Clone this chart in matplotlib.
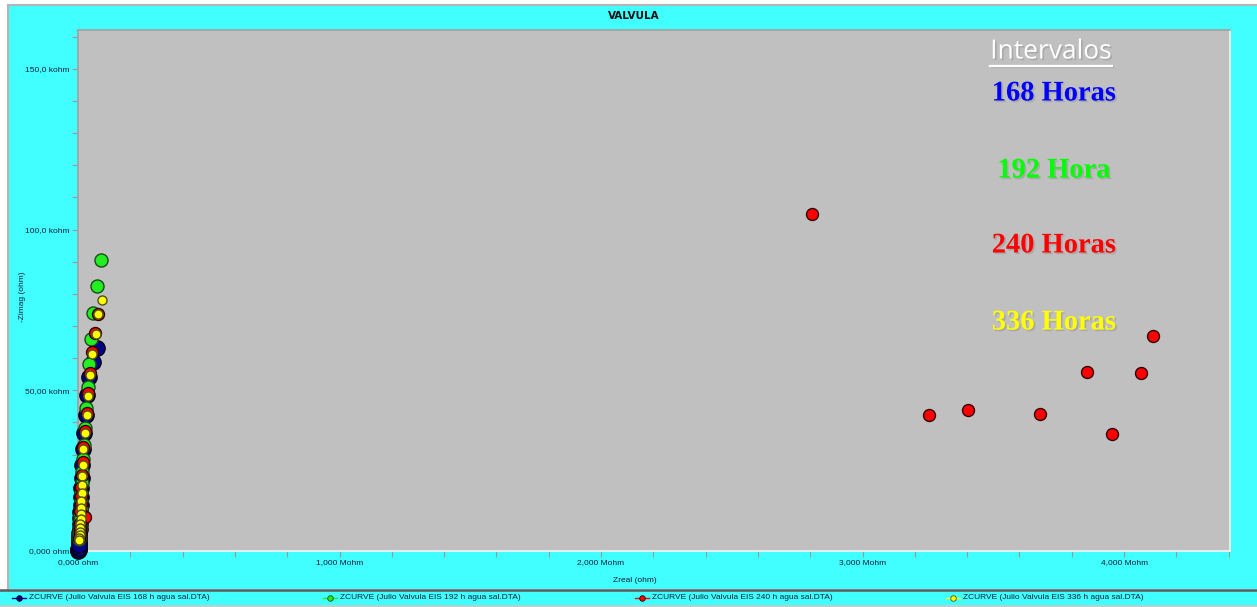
import matplotlib
matplotlib.use("Agg")
import matplotlib.pyplot as plt
from matplotlib.lines import Line2D
from matplotlib.patches import Rectangle
from matplotlib.ticker import MultipleLocator, FixedLocator
import matplotlib.patheffects as pe

# Nyquist data, Zreal and -Zimag in kohm
z168_re = [71.5, 58.6, 43.0, 33.0, 31.0, 24.0, 20.0, 14.0, 14.0, 12.0, 11.0, 10.0, 9.0,
           8.0, 7.0, 6.0, 5.0, 4.5, 4.0, 3.5, 3.0, 2.5, 2.0, 1.5, 1.0, 0.5, 3.0, 5.0, 2.0]
z168_im = [63.1, 58.9, 54.2, 48.5, 42.3, 36.6, 31.6, 26.8, 22.7, 19.5, 16.8, 14.3, 12.1,
           10.2, 8.5, 7.0, 5.7, 4.6, 3.6, 2.8, 2.1, 1.5, 1.0, 0.6, 0.3, 0.1, 0.4, 0.8, 1.8]

z192_re = [88.0, 74.0, 59.0, 50.0, 43.0, 37.0, 31.0, 27.0, 22.0, 18.0, 15.0, 14.0, 12.0,
           11.0, 10.0, 9.0, 8.0, 7.0, 6.0, 5.0, 4.5, 4.0]
z192_im = [90.5, 82.5, 74.1, 66.0, 58.2, 51.1, 44.4, 38.3, 33.0, 28.5, 24.6, 21.2, 18.2,
           15.6, 13.3, 11.3, 9.6, 8.1, 6.8, 5.6, 4.6, 3.7]

z240_re = [4111.0, 4065.0, 3954.0, 3858.0, 3679.0, 3403.0, 3254.0, 2807.0,
           78.0, 66.0, 55.0, 46.0, 40.0, 33.0, 27.0, 20.0, 18.0, 15.0, 13.0, 12.0, 27.0,
           10.0, 9.0, 8.0, 7.0, 6.0, 5.0]
z240_im = [66.9, 55.4, 36.4, 55.7, 42.6, 43.9, 42.3, 104.9,
           73.7, 67.9, 62.0, 55.5, 49.1, 43.0, 37.3, 32.3, 27.6, 23.5, 20.0, 17.0, 10.7,
           14.5, 12.3, 8.8, 7.0, 5.5, 4.2]

z336_re = [92.0, 78.0, 68.0, 55.0, 46.0, 40.0, 33.0, 27.0, 20.0, 18.0, 17.0, 15.0, 14.0,
           13.0, 12.0, 11.0, 10.0, 9.0, 8.0, 7.0, 6.0, 5.0, 4.5]
z336_im = [78.1, 73.7, 67.5, 61.3, 54.8, 48.3, 42.3, 36.6, 31.6, 26.8, 23.4, 20.6, 18.0,
           15.6, 13.5, 11.6, 9.9, 8.4, 7.1, 5.9, 4.9, 4.0, 3.3]

series_labels = ["ZCURVE (Julio Valvula EIS 168 h agua sal.DTA)",
                 "ZCURVE (Julio Valvula EIS 192 h agua sal.DTA)",
                 "ZCURVE (Julio Valvula EIS 240 h agua sal.DTA)",
                 "ZCURVE (Julio Valvula EIS 336 h agua sal.DTA)"]
interval_labels = ["168 Horas", "192 Hora", "240 Horas", "336 Horas"]

x_ticks = [0, 1000, 2000, 3000, 4000]
x_tick_labels = ["0,000 ohm", "1,000 Mohm", "2,000 Mohm", "3,000 Mohm", "4,000 Mohm"]
y_ticks = [0, 50, 100, 150]
y_tick_labels = ["0,000 ohm", "50,00 kohm", "100,0 kohm", "150,0 kohm"]

CYAN = "#42FFFF"
W, H = 1257, 607
fig = plt.figure(figsize=(W / 100, H / 100), dpi=100, facecolor="white")

def fx(px):
    return px / W

def fy(py):
    return 1 - py / H

# panel background and frame
fig.patches.append(Rectangle((fx(8), fy(589)), 1 - fx(8), fy(5) - fy(589),
                             transform=fig.transFigure, facecolor=CYAN,
                             edgecolor="none", zorder=-10))
fig.patches.append(Rectangle((0, fy(605)), 1, fy(590) - fy(605),
                             transform=fig.transFigure, facecolor=CYAN,
                             edgecolor="none", zorder=-10))
fig.lines.append(Line2D([fx(8), 1], [fy(5), fy(5)], transform=fig.transFigure,
                        color="#B4B4B4", lw=1.5, zorder=-5))
fig.lines.append(Line2D([fx(8), fx(8)], [fy(5), fy(589)], transform=fig.transFigure,
                        color="#B4B4B4", lw=1.5, zorder=-5))
fig.lines.append(Line2D([0, 1], [fy(589.5), fy(589.5)], transform=fig.transFigure,
                        color="#5A5A5A", lw=1.8, zorder=-5))
fig.lines.append(Line2D([0, 1], [fy(605.5), fy(605.5)], transform=fig.transFigure,
                        color="#A8C8C8", lw=1.2, zorder=-5))

ax = fig.add_axes([fx(78), fy(551), fx(1230) - fx(78), fy(30) - fy(551)])
ax.set_zorder(1)
ax.set_facecolor("#C0C0C0")
ax.set_xlim(0, 4405)
ax.set_ylim(0, 162.1)

for side, col in [("left", "#A0A0A0"), ("top", "#A0A0A0"),
                  ("right", "#F4F4F4"), ("bottom", "#F4F4F4")]:
    ax.spines[side].set_color(col)
    ax.spines[side].set_linewidth(1.2)

ax.xaxis.set_major_locator(FixedLocator(x_ticks))
ax.xaxis.set_minor_locator(MultipleLocator(200))
ax.yaxis.set_major_locator(FixedLocator(y_ticks))
ax.yaxis.set_minor_locator(MultipleLocator(10))
ax.set_xticklabels(x_tick_labels)
ax.set_yticklabels(y_tick_labels)
ax.tick_params(axis="both", which="both", direction="out", color="#9A9A9A",
               length=4, width=0.8, labelsize=6, labelcolor="#10203A")
ax.tick_params(axis="x", pad=2)
ax.tick_params(axis="y", pad=2)
for lab in ax.get_xticklabels() + ax.get_yticklabels():
    lab.set_family("Liberation Sans")

fig.text(fx(22), fy(297), "-Zimag (ohm)", rotation=90, ha="center", va="center",
         fontsize=6, family="Liberation Sans", color="#10203A")
fig.text(fx(635), fy(580), "Zreal (ohm)", ha="center", va="center",
         fontsize=6, family="Liberation Sans", color="#10203A")
fig.text(fx(634), fy(16), "VALVULA", ha="center", va="center", fontsize=7.5,
         fontweight="bold", family="DejaVu Sans", color="#101010")

series = [
    (z168_re, z168_im, "#000088", "#000010", 11.0),
    (z192_re, z192_im, "#22EE22", "#1A4A1A", 9.4),
    (z240_re, z240_im, "#FF0000", "#300000", 8.6),
    (z336_re, z336_im, "#FFFF00", "#505020", 6.5),
]
for i, (xr, yi, fc, ec, ms) in enumerate(series):
    ax.plot(xr, yi, linestyle="none", marker="o", markersize=ms,
            markerfacecolor=fc, markeredgecolor=ec, markeredgewidth=1.0,
            clip_on=False, zorder=3 + i)

# interval annotations
shadow = [pe.SimplePatchShadow(offset=(1.2, -1.2), shadow_rgbFace="#808080", alpha=0.35),
          pe.Normal()]
t_int = fig.text(fx(1051), fy(52), "Intervalos", ha="center", va="center",
                 fontsize=19, family="Open Sans", color="white", path_effects=shadow,
                 zorder=5)
label_cols = ["#0000FF", "#00FF00", "#FF0000", "#FFFF00"]
label_ys = [94, 171, 246, 323]
for txt, col, py in zip(interval_labels, label_cols, label_ys):
    fig.text(fx(1054), fy(py), txt, ha="center", va="center", fontsize=20.5,
             fontweight="bold", family="Liberation Serif", color=col,
             path_effects=shadow, zorder=5)

fig.canvas.draw()
bb = t_int.get_window_extent()
uy = bb.y0 - 1
fig.lines.append(Line2D([bb.x0 / W, bb.x1 / W], [uy / H, uy / H],
                        transform=fig.transFigure, color="white", lw=1.6, zorder=5,
                        path_effects=[pe.SimpleLineShadow(offset=(1.2, -1.2),
                                                          shadow_color="#808080",
                                                          alpha=0.35),
                                      pe.Normal()]))

# bottom legend strip
legend_x = [19, 330, 642, 953]
for lab, (xr, yi, fc, ec, ms), lx in zip(series_labels, series, legend_x):
    fig.lines.append(Line2D([fx(lx - 7), fx(lx + 7)], [fy(597.5), fy(597.5)],
                            transform=fig.transFigure, color=fc, lw=1.0))
    fig.lines.append(Line2D([fx(lx)], [fy(597.5)], transform=fig.transFigure,
                            marker="o", markersize=4, markerfacecolor=fc,
                            markeredgecolor=ec, markeredgewidth=0.6, linestyle="none"))
    fig.text(fx(lx + 10), fy(597.5), lab, ha="left", va="center", fontsize=6,
             family="Liberation Sans", color="#10203A")

fig.savefig("out.png", dpi=100, facecolor=fig.get_facecolor())
